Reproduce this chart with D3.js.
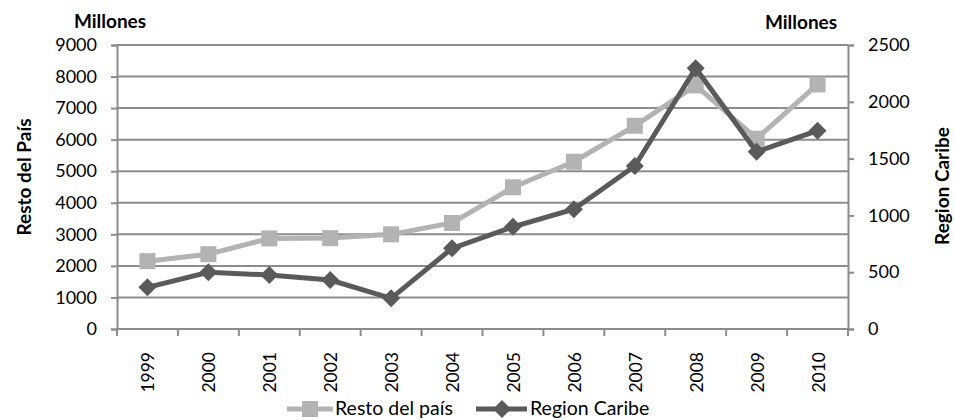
<!DOCTYPE html>
<html>
<head>
<meta charset="utf-8">
<script src="https://cdn.jsdelivr.net/npm/d3@7"></script>
<style>
  body { margin: 0; background: #fff; }
  svg text { font-family: Lato, "Open Sans", sans-serif; fill: #000; }
</style>
</head>
<body>
<svg id="chart" width="954" height="420"></svg>
<script>
// data
var years = ["1999", "2000", "2001", "2002", "2003", "2004", "2005", "2006", "2007", "2008", "2009", "2010"];
var resto = [2150, 2370, 2870, 2880, 3000, 3360, 4490, 5300, 6440, 7720, 6030, 7750];
var caribe = [367, 499, 475, 431, 270, 710, 900, 1054, 1435, 2295, 1561, 1746];
var leftTicks = [0, 1000, 2000, 3000, 4000, 5000, 6000, 7000, 8000, 9000];
var rightTicks = [0, 500, 1000, 1500, 2000, 2500];

var svg = d3.select("#chart");
var plotLeft = 117, plotRight = 848, plotTop = 45, plotBottom = 329;

var x = d3.scaleBand().domain(years).range([plotLeft, plotRight]);
var yL = d3.scaleLinear().domain([0, 9000]).range([plotBottom, plotTop]);
var yR = d3.scaleLinear().domain([0, 2500]).range([plotBottom, plotTop]);

var gridColor = "#8c8c8c";
var fmt = d3.format("d");

// gridlines
svg.append("g").selectAll("line").data(leftTicks.slice(1)).enter().append("line")
    .attr("x1", plotLeft).attr("x2", plotRight)
    .attr("y1", function(d) { return yL(d); }).attr("y2", function(d) { return yL(d); })
    .attr("stroke", gridColor).attr("stroke-width", 2);

// left axis
var gl = svg.append("g").attr("transform", "translate(" + plotLeft + ",0)")
    .call(d3.axisLeft(yL).tickValues(leftTicks).tickFormat(fmt).tickSize(6).tickPadding(14));
gl.selectAll("text").style("font-size", "18px");

// right axis
var gr = svg.append("g").attr("transform", "translate(" + plotRight + ",0)")
    .call(d3.axisRight(yR).tickValues(rightTicks).tickFormat(fmt).tickSize(6).tickPadding(14));
gr.selectAll("text").style("font-size", "18px");

// bottom axis: ticks at category boundaries
var gb = svg.append("g").attr("transform", "translate(0," + plotBottom + ")")
    .call(d3.axisBottom(x).tickSize(0).tickPadding(0));
gb.select(".domain").remove();
gb.selectAll("text")
    .style("font-size", "17.5px")
    .attr("text-anchor", "end")
    .attr("transform", "translate(7,23) rotate(-90)")
    .attr("dy", "0");
var bounds = years.map(function(d) { return x(d); }).concat([plotRight]);
svg.append("g").selectAll("line").data(bounds).enter().append("line")
    .attr("x1", function(d) { return d; }).attr("x2", function(d) { return d; })
    .attr("y1", plotBottom).attr("y2", plotBottom + 7)
    .attr("stroke", gridColor).attr("stroke-width", 2);
svg.append("line").attr("x1", plotLeft).attr("x2", plotRight)
    .attr("y1", plotBottom).attr("y2", plotBottom)
    .attr("stroke", gridColor).attr("stroke-width", 2);

svg.selectAll(".domain, .tick line").attr("stroke", gridColor).attr("stroke-width", 2);

// axis titles
svg.append("text").attr("x", 110).attr("y", 28).attr("text-anchor", "middle")
    .style("font-size", "19px").style("font-weight", "bold").text("Millones");
svg.append("text").attr("x", 801).attr("y", 29).attr("text-anchor", "middle")
    .style("font-size", "19px").style("font-weight", "bold").text("Millones");
svg.append("text").attr("transform", "translate(31,177) rotate(-90)").attr("text-anchor", "middle")
    .style("font-size", "19px").style("font-weight", "bold").text("Resto del País");
svg.append("text").attr("transform", "translate(949,186) rotate(-90)").attr("text-anchor", "middle")
    .style("font-size", "19px").style("font-weight", "bold").text("Region Caribe");

var cx = function(i) { return x(years[i]) + x.bandwidth() / 2; };
var restoColor = "#b3b3b3", caribeColor = "#5a5a5a";

// Resto series
svg.append("path")
    .attr("d", d3.line().x(function(d, i) { return cx(i); }).y(function(d) { return yL(d); })(resto))
    .attr("fill", "none").attr("stroke", restoColor).attr("stroke-width", 5);
svg.append("g").selectAll("rect").data(resto).enter().append("rect")
    .attr("x", function(d, i) { return cx(i) - 8; })
    .attr("y", function(d) { return yL(d) - 8; })
    .attr("width", 16).attr("height", 16).attr("fill", restoColor);

// Caribe series
var diamond = "M0,-9L9,0L0,9L-9,0Z";
svg.append("path")
    .attr("d", d3.line().x(function(d, i) { return cx(i); }).y(function(d) { return yR(d); })(caribe))
    .attr("fill", "none").attr("stroke", caribeColor).attr("stroke-width", 5);
svg.append("g").selectAll("path").data(caribe).enter().append("path")
    .attr("d", diamond)
    .attr("transform", function(d, i) { return "translate(" + cx(i) + "," + yR(d) + ")"; })
    .attr("fill", caribeColor);

// legend
var ly = 409;
svg.append("line").attr("x1", 287).attr("x2", 333).attr("y1", ly).attr("y2", ly)
    .attr("stroke", restoColor).attr("stroke-width", 5);
svg.append("rect").attr("x", 302).attr("y", ly - 8).attr("width", 16).attr("height", 16).attr("fill", restoColor);
svg.append("text").attr("x", 335).attr("y", ly + 6).style("font-size", "19.5px").text("Resto del país");

svg.append("line").attr("x1", 476).attr("x2", 527).attr("y1", ly).attr("y2", ly)
    .attr("stroke", caribeColor).attr("stroke-width", 5);
svg.append("path").attr("d", diamond).attr("transform", "translate(502," + ly + ")").attr("fill", caribeColor);
svg.append("text").attr("x", 530).attr("y", ly + 6).style("font-size", "19.5px").text("Region Caribe");
</script>
</body>
</html>
